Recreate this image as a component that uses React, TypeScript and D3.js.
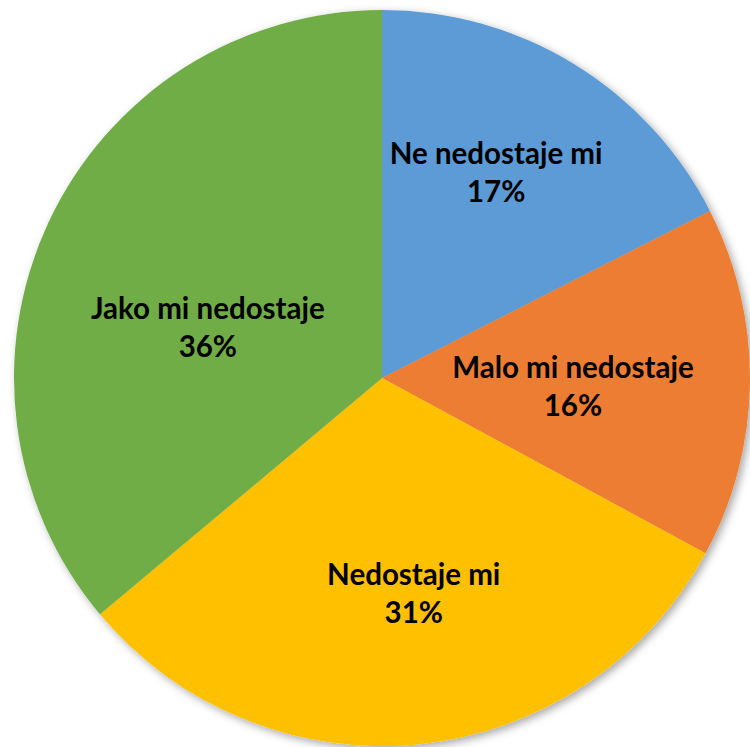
import React from "react";
import * as d3 from "d3";

const categories = ["Ne nedostaje mi", "Malo mi nedostaje", "Nedostaje mi", "Jako mi nedostaje"];
const values = [17.5, 15.4, 31.0, 36.1];
const percentLabels = ["17%", "16%", "31%", "36%"];
const colors = ["#5B9BD5", "#ED7D31", "#FFC000", "#70AD47"];

// label placement: radius fraction and angular nudge (degrees) per slice
const labelRadius = [0.63, 0.52, 0.6, 0.49];
const labelAngleNudge = [-2, 3, -2.5, -10];

const W = 750;
const H = 747;
const cx = 382;
const cy = 378;
const R = 368;

export default function App() {
  const pie = d3.pie<number>().sort(null).value((d) => d);
  const arcs = pie(values);
  const arc = d3.arc<d3.PieArcDatum<number>>().innerRadius(0).outerRadius(R);

  return (
    <div style={{ position: "fixed", left: 0, top: 0 }}>
      <svg width={W} height={H} style={{ display: "block" }}>
        <defs>
          <filter id="sh" x="-10%" y="-10%" width="120%" height="120%">
            <feDropShadow dx="3" dy="3" stdDeviation="4" floodColor="#000" floodOpacity="0.35" />
          </filter>
        </defs>
        <rect width={W} height={H} fill="#fff" />
        <g transform={`translate(${cx},${cy})`}>
          <g filter="url(#sh)">
            {arcs.map((a, i) => (
              <path key={i} d={arc(a) || ""} fill={colors[i]} />
            ))}
          </g>
          {arcs.map((a, i) => {
            const mid = (a.startAngle + a.endAngle) / 2 + (labelAngleNudge[i] * Math.PI) / 180;
            const r = labelRadius[i] * R;
            const x = Math.sin(mid) * r;
            const y = -Math.cos(mid) * r;
            return (
              <text
                key={i}
                x={x}
                y={y}
                textAnchor="middle"
                fontFamily="Lato, 'Open Sans', sans-serif"
                fontWeight="bold"
                fontSize={29.5}
                fill="#000"
              >
                <tspan x={x} dy={-12}>{categories[i]}</tspan>
                <tspan x={x} dy={38}>{percentLabels[i]}</tspan>
              </text>
            );
          })}
        </g>
      </svg>
    </div>
  );
}
